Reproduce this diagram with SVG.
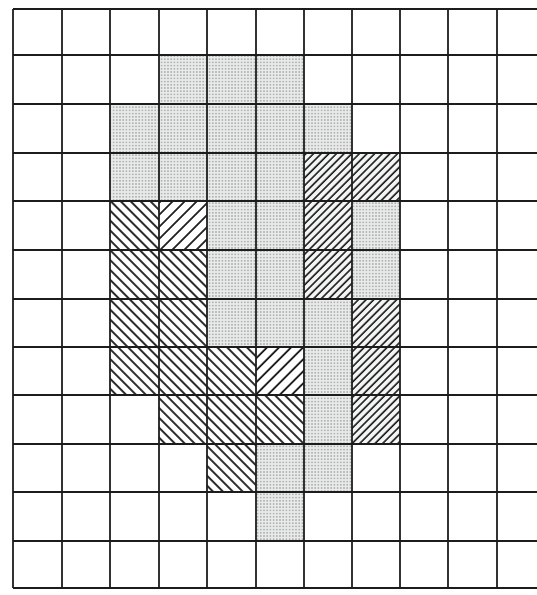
<svg xmlns="http://www.w3.org/2000/svg" width="537" height="595" viewBox="0 0 537 595">
<defs>
<pattern id="dots" patternUnits="userSpaceOnUse" width="3.2" height="3.2">
<rect width="3.2" height="3.2" fill="#e9ebeb"/>
<circle cx="1.6" cy="1.6" r="0.8" fill="#9c9e9e"/>
</pattern>
<pattern id="back" patternUnits="userSpaceOnUse" width="10" height="7" patternTransform="rotate(45)">
<rect width="10" height="7" fill="#fff"/>
<line x1="0" y1="1" x2="10" y2="1" stroke="#151515" stroke-width="1.8"/>
</pattern>
<pattern id="fwd" patternUnits="userSpaceOnUse" width="10" height="5.4" patternTransform="rotate(-45)">
<rect width="10" height="5.4" fill="#f3f5f5"/>
<line x1="0" y1="1" x2="10" y2="1" stroke="#151515" stroke-width="1.6"/>
</pattern>
<pattern id="fwds" patternUnits="userSpaceOnUse" width="10" height="8.5" patternTransform="rotate(-45)">
<rect width="10" height="8.5" fill="#fff"/>
<line x1="0" y1="1" x2="10" y2="1" stroke="#151515" stroke-width="1.8"/>
</pattern>
<style>
.D{fill:url(#dots)}
.B{fill:url(#back)}
.F{fill:url(#fwd)}
.S{fill:url(#fwds)}
.g line{stroke:#1c1c1c;stroke-width:1.8}
</style>
</defs>
<rect width="537" height="595" fill="#fff"/>
<g id="cells">
<rect class="D" x="159" y="55" width="145" height="49"/>
<rect class="D" x="110" y="104" width="242" height="49"/>
<rect class="D" x="110" y="153" width="194" height="48"/>
<rect class="F" x="304" y="153" width="96" height="48"/>
<rect class="B" x="110" y="201" width="49" height="49"/>
<rect class="S" x="159" y="201" width="48" height="49"/>
<rect class="D" x="207" y="201" width="97" height="49"/>
<rect class="F" x="304" y="201" width="48" height="49"/>
<rect class="D" x="352" y="201" width="48" height="49"/>
<rect class="B" x="110" y="250" width="97" height="49"/>
<rect class="D" x="207" y="250" width="97" height="49"/>
<rect class="F" x="304" y="250" width="48" height="49"/>
<rect class="D" x="352" y="250" width="48" height="49"/>
<rect class="B" x="110" y="299" width="97" height="48"/>
<rect class="D" x="207" y="299" width="145" height="48"/>
<rect class="F" x="352" y="299" width="48" height="48"/>
<rect class="B" x="110" y="347" width="146" height="48"/>
<rect class="S" x="256" y="347" width="48" height="48"/>
<rect class="D" x="304" y="347" width="48" height="48"/>
<rect class="F" x="352" y="347" width="48" height="48"/>
<rect class="B" x="159" y="395" width="145" height="49"/>
<rect class="D" x="304" y="395" width="48" height="49"/>
<rect class="F" x="352" y="395" width="48" height="49"/>
<rect class="B" x="207" y="444" width="49" height="48"/>
<rect class="D" x="256" y="444" width="96" height="48"/>
<rect class="D" x="256" y="492" width="48" height="49"/>
</g>
<g id="grid" class="g">
<line x1="13" y1="9" x2="537" y2="9"/>
<line x1="13" y1="55" x2="537" y2="55"/>
<line x1="13" y1="104" x2="537" y2="104"/>
<line x1="13" y1="153" x2="537" y2="153"/>
<line x1="13" y1="201" x2="537" y2="201"/>
<line x1="13" y1="250" x2="537" y2="250"/>
<line x1="13" y1="299" x2="537" y2="299"/>
<line x1="13" y1="347" x2="537" y2="347"/>
<line x1="13" y1="395" x2="537" y2="395"/>
<line x1="13" y1="444" x2="537" y2="444"/>
<line x1="13" y1="492" x2="537" y2="492"/>
<line x1="13" y1="541" x2="537" y2="541"/>
<line x1="13" y1="588" x2="537" y2="588"/>
<line x1="13" y1="9" x2="13" y2="588"/>
<line x1="62" y1="9" x2="62" y2="588"/>
<line x1="110" y1="9" x2="110" y2="588"/>
<line x1="159" y1="9" x2="159" y2="588"/>
<line x1="207" y1="9" x2="207" y2="588"/>
<line x1="256" y1="9" x2="256" y2="588"/>
<line x1="304" y1="9" x2="304" y2="588"/>
<line x1="352" y1="9" x2="352" y2="588"/>
<line x1="400" y1="9" x2="400" y2="588"/>
<line x1="448" y1="9" x2="448" y2="588"/>
<line x1="497" y1="9" x2="497" y2="588"/>
</g>
</svg>
